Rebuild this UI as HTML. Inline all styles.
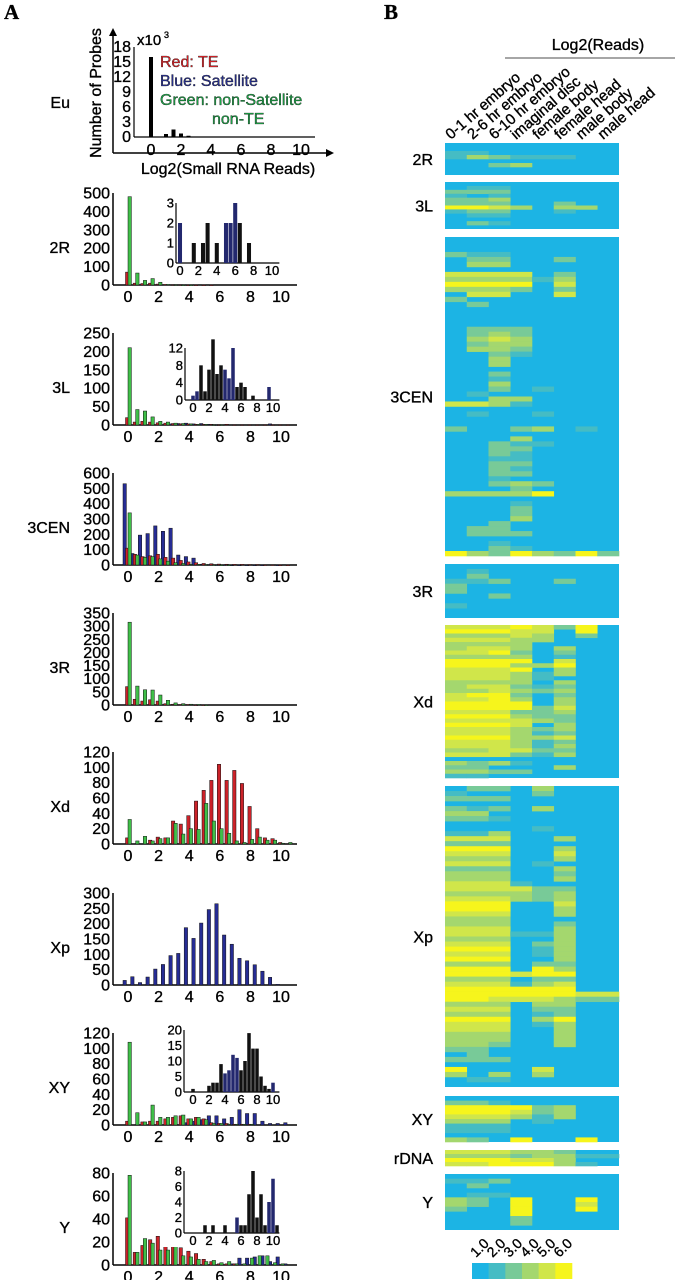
<!DOCTYPE html>
<html><head><meta charset="utf-8">
<style>
html,body{margin:0;padding:0;background:#fff;}
svg{display:block;font-family:"Liberation Sans",Arial,sans-serif;}
svg text{stroke:#000;stroke-width:0.35;}
</style></head>
<body>
<svg id="fig" width="675" height="1280" viewBox="0 0 675 1280" xmlns="http://www.w3.org/2000/svg">
<text x="4" y="19" font-family="Liberation Serif,serif" font-weight="bold" font-size="21">A</text>
<text x="384" y="19" font-family="Liberation Serif,serif" font-weight="bold" font-size="21">B</text>
<g id="left"></g>
<g id="right"></g>
</svg>
<script>
// ---------- Histogram data (bins at 0,0.5,...,10.5) ----------
const euVals = [16,0,0.6,1.5,0.7,0.25,0.1,0,0,0,0,0,0,0,0,0,0,0,0,0,0,0];
const yTicksEu = [0,3,6,9,12,15,18];
const xTicks = [0,2,4,6,8,10];

const red2R   = [70,10,8,10,5,3,2,2,1,1,1,1,0,0,0,0,0,0,0,0,0,0];
const blue2R  = [0,0,0,0,0,0,0,0,0,0,0,0,0,0,0,0,0,0,0,0,0,0];
const green2R = [480,65,25,35,15,3,2,1,1,0,0,0,0,0,0,0,0,0,0,0,0,0];

const red3L   = [20,8,10,8,6,5,4,3,3,2,2,2,1,2,1,1,1,1,1,1,1,1];
const blue3L  = [0,0,0,0,0,0,3,4,5,3,4,2,1,0,0,0,0,0,0,3,0,0];
const green3L = [210,42,38,22,10,8,5,4,3,2,2,1,1,0,0,0,0,0,0,0,0,0];

const red3CEN   = [110,70,55,60,70,50,45,30,20,15,10,8,6,5,4,4,3,3,2,2,1,1];
const blue3CEN  = [530,75,195,205,255,220,240,65,55,45,5,3,2,2,1,1,1,1,1,0,1,0];
const green3CEN = [340,65,50,55,40,25,15,10,5,5,3,2,1,1,0,0,0,0,0,0,0,0];

const red3R   = [70,22,15,20,15,5,3,2,2,1,1,0,0,0,0,0,0,0,0,0,0,0];
const blue3R  = [0,0,0,0,0,0,0,0,0,0,0,0,0,0,0,0,0,0,0,0,0,0];
const green3R = [315,72,58,57,38,18,8,5,3,2,1,0,0,0,0,0,0,0,0,0,0,0];

const redXd   = [8,0,0,5,9,8,30,26,37,56,70,83,104,83,96,79,49,20,8,7,2,0];
const blueXd  = [0,0,0,0,0,0,0,0,0,0,0,0,0,0,0,0,0,0,0,0,0,0];
const greenXd = [32,4,10,4,7,8,27,13,20,19,53,30,20,14,4,2,6,9,5,5,1,2];

const redXp   = [0,0,0,0,0,0,0,0,0,0,0,0,0,0,0,0,0,0,0,0,0,0];
const blueXp  = [15,27,8,26,52,67,96,103,187,152,202,246,265,163,133,87,79,66,45,25,2,0];
const greenXp = [0,0,0,0,0,0,0,0,0,0,0,0,0,0,0,0,0,0,0,0,0,0];

const redXY   = [5,0,4,5,5,8,10,12,8,10,8,3,2,2,1,1,1,0,0,0,0,0];
const blueXY  = [0,0,0,0,0,0,0,0,3,5,7,12,12,8,10,20,15,15,5,2,2,3];
const greenXY = [108,16,4,26,10,10,12,13,8,10,7,2,2,1,1,1,1,0,0,0,0,0];

const redY   = [41,11,17,22,25,22,23,15,12,10,5,3,1,1,1,0,0,0,0,0,0,0];
const blueY  = [0,0,0,0,0,0,0,0,0,0,0,0,0,0,1,6,6,7,8,3,7,1];
const greenY = [78,11,23,19,13,13,18,8,7,5,3,4,2,3,1,1,6,8,8,2,1,0];

// inset data (bins at 0,0.5,...)
const inset2RBlack = [0,0,0,1,0,1,2,0,1,0,0,0,0,2,0,1];
const inset2RBlue  = [2,0,0,0,0,0,0,0,0,0,2,2,3,0,0,0];
const inset3LBlack = [0,0,8,2,7,14,6,8,0,0,0,3,4,3,0,1,0,0,0,0];
const inset3LBlue  = [1,2,0,0,0,0,0,0,7,5,12,0,0,0,0,0,0,0,0,3];
const insetXYBlack = [1,0,0,0,2,3,3,9,0,0,0,0,7,10,19,14,14,5,2,1,0];
const insetXYBlue  = [0,0,0,0,0,0,0,0,6,7,12,11,0,0,0,0,0,0,0,0,3];
const insetYBlack  = [0,0,0,1,0,1,0,0,1,0,0,0,1,1,5,8,2,5,1,0,0,1];
const insetYBlue   = [0,0,0,0,0,0,0,0,0,0,0,2,0,0,0,0,0,0,0,4,7,0];

const NS="http://www.w3.org/2000/svg";
const L=document.getElementById('left');
function mk(tag,attrs,parent){const e=document.createElementNS(NS,tag);for(const k in attrs)e.setAttribute(k,attrs[k]);(parent||L).appendChild(e);return e;}
function txt(s,attrs,parent){const e=mk('text',attrs,parent);e.textContent=s;return e;}

const COL={red:'#cc2229',blue:'#262c94',green:'#3fbf48'};

// ---------- Eu panel ----------
(function(){
  const g=mk('g',{});
  
  
  const xs=v=>151+v*15, ys=v=>137-v*5;
  mk('line',{x1:113,y1:153,x2:113,y2:32,stroke:'#000','stroke-width':1.5},g);
  mk('path',{d:'M109,36 L113,28 L117,36 Z',fill:'#000'},g);
  mk('line',{x1:113,y1:153,x2:328,y2:153,stroke:'#000','stroke-width':1.5},g);
  mk('path',{d:'M326,149 L334,153 L326,157 Z',fill:'#000'},g);
  mk('line',{x1:134,y1:47,x2:134,y2:137,stroke:'#000','stroke-width':1.2},g);
  mk('line',{x1:134,y1:137,x2:315,y2:137,stroke:'#000','stroke-width':1.2},g);
  yTicksEu.forEach(t=>{const e=txt(String(t),{x:131,y:ys(t)+5,'text-anchor':'end','font-size':16},g);});
  xTicks.forEach(t=>{const e=txt(String(t),{x:xs(t),y:155,'text-anchor':'middle','font-size':16},g);});
  euVals.forEach((v,i)=>{if(v<=0)return;const b=mk('rect',{x:xs(i*0.5)-2,y:ys(v),width:4,height:137-ys(v),fill:'#000'},g);
    });
  let e=txt('x10',{x:137,y:45,'font-size':15},g);
  txt('3',{x:164,y:38,'font-size':9},g);
  e=txt('Number of Probes',{x:0,y:0,'font-size':16,'text-anchor':'middle',transform:'translate(101,93) rotate(-90)'},g);
  
  e=txt('Log2(Small RNA Reads)',{x:228,y:174,'font-size':16,'text-anchor':'middle'},g);
  
  e=txt('Eu',{x:70,y:108,'font-size':16,'text-anchor':'end'},g);
  
  e=txt('Red: TE',{x:160,y:67,'font-size':16,fill:'#e8262b',stroke:'#e8262b'},g);
  e=txt('Blue: Satellite',{x:160,y:86,'font-size':16,fill:'#2b3394',stroke:'#2b3394'},g);
  e=txt('Green: non-Satellite',{x:160,y:105,'font-size':16,fill:'#1ea84a',stroke:'#1ea84a'},g);
  e=txt('non-TE',{x:212,y:124,'font-size':16,fill:'#1ea84a',stroke:'#1ea84a'},g);
})();

// ---------- main histogram panels ----------
function panel(name,base,ticks,red,blue,green){
  const g=mk('g',{});
  
  
  const ymax=ticks[ticks.length-1];
  const xs=v=>128+v*15.3, ys=v=>base-v/ymax*92;
  mk('line',{x1:113,y1:base-92,x2:113,y2:base,stroke:'#000','stroke-width':1.5},g);
  mk('line',{x1:113,y1:base,x2:297,y2:base,stroke:'#000','stroke-width':1.5},g);
  ticks.forEach(t=>{const e=txt(String(t),{x:110,y:ys(t)+5.5,'text-anchor':'end','font-size':16},g);
    });
  xTicks.forEach(t=>{const e=txt(String(t),{x:xs(t),y:base+17,'text-anchor':'middle','font-size':16},g);
    });
  const series=[[blue,COL.blue,-5,'satellite'],[red,COL.red,-2.5,'te'],[green,COL.green,0,'non-te']];
  series.forEach(([arr,c,off,nm])=>{arr.forEach((v,i)=>{if(v<=0)return;
    const y=ys(v);const b=mk('rect',{x:xs(i*0.5)+off,y:y,width:3.4,height:Math.max(base-y,0.8),fill:c,stroke:'#111','stroke-width':0.5},g);
    });});
  const e=txt(name,{x:70,y:base-32,'font-size':16,'text-anchor':'end'},g);
  
}
panel('2R',285,[0,100,200,300,400,500],red2R,blue2R,green2R);
panel('3L',425,[0,50,100,150,200,250],red3L,blue3L,green3L);
panel('3CEN',565,[0,100,200,300,400,500,600],red3CEN,blue3CEN,green3CEN);
panel('3R',705,[0,50,100,150,200,250,300,350],red3R,blue3R,green3R);
panel('Xd',844,[0,20,40,60,80,100,120],redXd,blueXd,greenXd);
panel('Xp',985,[0,50,100,150,200,250,300],redXp,blueXp,greenXp);
panel('XY',1125,[0,20,40,60,80,100,120],redXY,blueXY,greenXY);
panel('Y',1265,[0,20,40,60,80],redY,blueY,greenY);

// ---------- insets ----------
function inset(name,left,x0,unit,base,h,ticks,black,blue){
  const g=mk('g',{});
  
  
  const ymax=ticks[ticks.length-1];
  const xs=v=>x0+v*unit, ys=v=>base-v/ymax*h;
  mk('rect',{x:left-22,y:base-h-4,width:120,height:h+18,fill:'#fff'},g);
  mk('line',{x1:left,y1:base-h,x2:left,y2:base,stroke:'#000','stroke-width':1.2},g);
  mk('line',{x1:left,y1:base,x2:x0+10.8*unit,y2:base,stroke:'#000','stroke-width':1.2},g);
  ticks.forEach(t=>{const e=txt(String(t),{x:left-2,y:ys(t)+4.5,'text-anchor':'end','font-size':13},g);
    });
  xTicks.forEach(t=>{const e=txt(String(t),{x:xs(t),y:base+12,'text-anchor':'middle','font-size':13},g);
    });
  [[black,'#111','other'],[blue,'#23286e','satellite']].forEach(([arr,c,nm])=>arr.forEach((v,i)=>{if(v<=0)return;
    const b=mk('rect',{x:xs(i*0.5)-unit*0.22,y:ys(v),width:unit*0.44,height:base-ys(v),fill:c},g);
    }));
}
inset('2r',176,180,9.2,263,60,[0,1,2,3],inset2RBlack,inset2RBlue);
inset('3l',185,193,8,400,52,[0,4,8,12],inset3LBlack,inset3LBlue);
inset('xy',184,193,8,1092,62,[0,5,10,15,20],insetXYBlack,insetXYBlue);
inset('y',184,193,8,1233,62,[0,2,4,6,8],insetYBlack,insetYBlue);

// ---------- Heatmap data ----------
const heatColumns = ['0-1 hr embryo','2-6 hr embryo','6-10 hr embryo','imaginal disc','female body','female head','male body','male head'];
const heatLevels = ['1.0','2.0','3.0','4.0','5.0','6.0'];
const heatColors = ['#1cb4e4','#45bcc4','#78ca98','#a4d76e','#d0e64a','#f6f51c'];
const rows2R = ['00000000','00000000','11000000','13211100','00000000','00230000','00000000','00000000'];
const rows3L = ['00000000','01100000','22200000','10100000','22300000','22200200','55430330','12200100','01100000','00000000','02100000','00000000'];
const rows3CEN = ['00000000','00000000','00000000','21100000','02200200','03300000','00000000','44440200','33331300','55550400','33320200','04400400','20000000','02000000','00000000','00000000','00000000','00000000','02220000','02320000','03430000','02330000','03320000','00210000','00300000','00300000','00000000','00200000','00100000','00300000','00201000','01000000','00330000','44310000','00000000','01001000','00000000','00000000','20023010','00000000','00030000','00211000','00220000','00210000','00110000','00220000','00210000','00220000','00100000','00232000','00020000','33335000','00000000','00010000','00020000','00020000','00030000','00200000','02200000','02220000','00000000','00100000','00210000','53253252'];
const rows3R = ['00000000','01000000','02000000','11200200','20000000','20000000','00200000','00000000','10000000','00000000','00000000'];
const rowsXd = ['44454250','55544050','33343020','44433000','33330000','34430300','44520200','33330100','55550400','55533500','44450300','44431300','44431000','33330300','34421200','33432300','45520200','44530300','55550300','55552400','44422300','55532200','44443200','55540300','44432300','44431200','55533400','44431200','44431300','33442200','44421300','00000000','32310000','22000300','33220000','11000000'];
const rowsXp = ['02203000','10002000','22200000','00000000','21203000','33000000','22100000','00000000','00001000','11300000','44400300','22200000','55500300','44400400','33300300','44401000','22200300','33300200','33300300','44410000','44442200','33332300','44432300','55500400','55500300','44400300','33300000','33300200','44400300','44411300','33300300','44402300','55501300','44401300','55500300','33302200','55505300','55545500','33302200','44413400','55555500','55555544','55444322','33303300','44402200','33301200','55503500','44401300','44400300','33300300','33300300','33200300','22000000','02000000','22200000','00000000','50004000','30303000','01100000','00000000'];
const rowsXY = ['00000000','22100000','55552300','55542300','44431300','33301000','11100000','11100000','00000000','32050050'];
const rowsrDNA = ['44433200','33323311','55544300','44555310'];
const rowsY = ['00000000','11200000','02000000','00000000','01100000','32050050','32050040','20050050','00050000','00020000','00020000','00000000'];
const heatBlocks = [['2R',143,175,rows2R],['3L',182,229,rows3L],['3CEN',237,556,rows3CEN],['3R',564,618,rows3R],['Xd',625,778,rowsXd],['Xp',786,1087,rowsXp],['XY',1096,1142,rowsXY],['rDNA',1150,1166,rowsrDNA],['Y',1174,1230,rowsY]];

const R=document.getElementById('right');
const hx0=445, colW=21.75;
heatBlocks.forEach(([name,y0,y1,rows])=>{
  const g=mk('g',{},R);
  
  
  const rh=(y1-y0)/rows.length;
  mk('rect',{x:hx0,y:y0,width:colW*8,height:y1-y0,fill:heatColors[0]},g);
  rows.forEach((r,ri)=>{for(let c=0;c<8;c++){const lv=+r[c];if(!lv)continue;
    const cell=mk('rect',{x:hx0+c*colW,y:y0+ri*rh,width:colW+0.3,height:rh+0.3,fill:heatColors[lv]},g);
    }});
  const e=txt(name,{x:433,y:(y0+y1)/2+6,'font-size':16,'text-anchor':'end'},R);
  
});
heatColumns.forEach((c,i)=>{
  const x=hx0+colW*(i+0.5)-5;
  const e=txt(c,{x:0,y:0,'font-size':15,transform:`translate(${x},140) rotate(-41)`},R);
  
});
let t=txt('Log2(Reads)',{x:598,y:50,'font-size':16,'text-anchor':'middle'},R);

mk('line',{x1:505,y1:58,x2:675,y2:58,stroke:'#888','stroke-width':1.5},R);
// colorbar
const cbW=100/heatLevels.length;
heatLevels.forEach((lab,i)=>{
  const r=mk('rect',{x:472+i*cbW,y:1263,width:cbW+0.3,height:16,fill:heatColors[i]},R);
  
  const e=txt(lab,{x:0,y:0,'font-size':14,transform:`translate(${476+i*cbW},1258) rotate(-45)`},R);
  
});
</script>
</body></html>
